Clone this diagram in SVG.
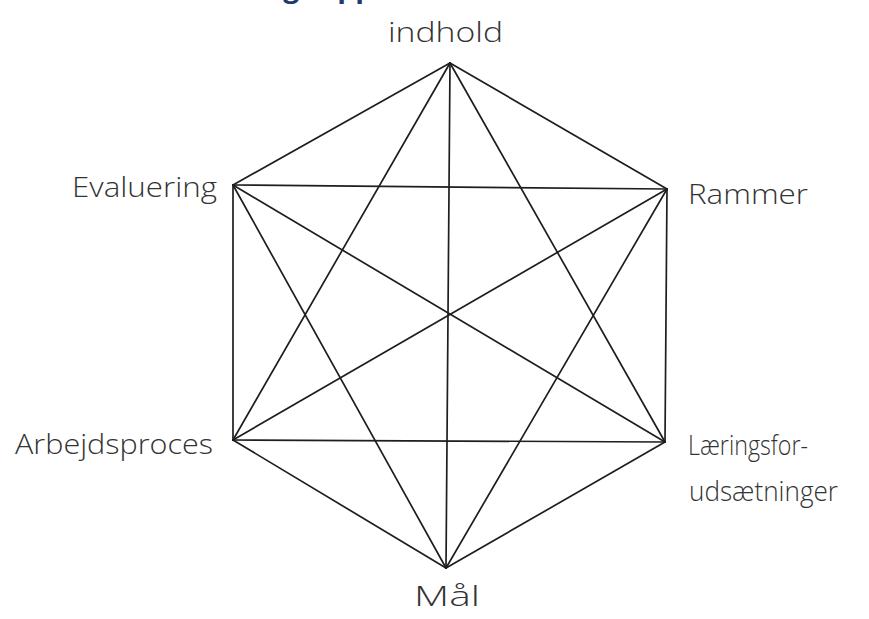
<svg xmlns="http://www.w3.org/2000/svg" width="869" height="619" viewBox="0 0 869 619">
  <style>
    .lbl { font-family: "Open Sans", "Liberation Sans", sans-serif; font-weight: 300; font-size: 28px; fill: #333333; }
    .title { font-family: "Open Sans", "Liberation Sans", sans-serif; font-weight: 700; font-size: 28.5px; fill: #1f3a6e; }
    .edge { stroke: #1e1e1e; stroke-width: 1.7; fill: none; stroke-linecap: round; }
  </style>
  <rect width="869" height="619" fill="#ffffff"/>
  <text class="title" x="191" y="-3">Hiim og Hippes didaktiske relationsmodel</text>
  <g id="connectors">
    <line class="edge" x1="450" y1="63" x2="667" y2="189"/>
    <line class="edge" x1="667" y1="189" x2="665" y2="442"/>
    <line class="edge" x1="665" y1="442" x2="446" y2="568"/>
    <line class="edge" x1="446" y1="568" x2="233" y2="440"/>
    <line class="edge" x1="233" y1="440" x2="233" y2="185"/>
    <line class="edge" x1="233" y1="185" x2="450" y2="63"/>
    <line class="edge" x1="450" y1="63" x2="665" y2="442"/>
    <line class="edge" x1="665" y1="442" x2="233" y2="440"/>
    <line class="edge" x1="233" y1="440" x2="450" y2="63"/>
    <line class="edge" x1="446" y1="568" x2="233" y2="185"/>
    <line class="edge" x1="233" y1="185" x2="667" y2="189"/>
    <line class="edge" x1="667" y1="189" x2="446" y2="568"/>
    <line class="edge" x1="450" y1="63" x2="446" y2="568"/>
    <line class="edge" x1="233" y1="185" x2="665" y2="442"/>
    <line class="edge" x1="233" y1="440" x2="667" y2="189"/>
  </g>
  <g id="node-indhold">
    <text class="lbl" x="388" y="42" textLength="115" lengthAdjust="spacingAndGlyphs">indhold</text>
  </g>
  <g id="node-rammer">
    <text class="lbl" x="688" y="204" textLength="120" lengthAdjust="spacingAndGlyphs">Rammer</text>
  </g>
  <g id="node-laeringsforudsaetninger">
    <text class="lbl" x="688" y="455" textLength="120" lengthAdjust="spacingAndGlyphs">Læringsfor-</text>
    <text class="lbl" x="689" y="501" textLength="149" lengthAdjust="spacingAndGlyphs">udsætninger</text>
  </g>
  <g id="node-maal">
    <text class="lbl" x="414" y="606" textLength="66" lengthAdjust="spacingAndGlyphs">Mål</text>
  </g>
  <g id="node-arbejdsproces">
    <text class="lbl" x="15" y="454" textLength="198" lengthAdjust="spacingAndGlyphs">Arbejdsproces</text>
  </g>
  <g id="node-evaluering">
    <text class="lbl" x="72" y="197" textLength="145" lengthAdjust="spacingAndGlyphs">Evaluering</text>
  </g>
</svg>
